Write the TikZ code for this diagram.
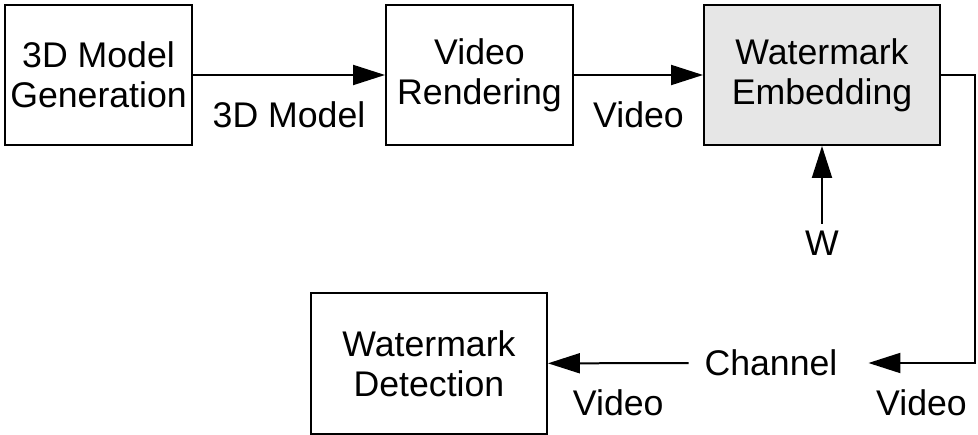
\documentclass[tikz,border=0pt]{standalone}
\usepackage{fontspec}
\setmainfont{Liberation Sans}
\usetikzlibrary{arrows.meta, calc}

\definecolor{embgray}{HTML}{E6E6E6}

\begin{document}
\begin{tikzpicture}[x=0.02cm, y=-0.02cm, >={Triangle[length=0.64cm, width=0.4cm]}, line width=0.04cm, font=\fontsize{20.3}{23}\selectfont]

  % --- ESTILOS ---
  \tikzstyle{block}=[draw, align=center, minimum height=2.8cm, inner sep=0pt]
  \tikzstyle{lbl}=[below=0.4cm]

  \useasboundingbox (0,0) rectangle (978,435);

  % --- LINHA SUPERIOR (Geração, Renderização, Inserção) ---
  \node[block, minimum width=3.74cm] (gen) at (98.5, 75) {3D Model\\Generation};
  \node[block, minimum width=3.74cm] (rend) at (479.5, 75) {Video\\Rendering};
  \node[block, fill=embgray, minimum width=4.72cm] (emb) at (822, 75) {Watermark\\Embedding};

  % Marca d'água W
  \node (w) at (822, 243) {W};

  % --- LINHA INFERIOR (Canal e Detecção) ---
  \node[inner xsep=0.3cm] (chan) at (771, 363) {Channel};
  \node[block, minimum width=4.72cm, minimum height=2.82cm] (det) at (429, 363.5) {Watermark\\Detection};

  % Ponto de dobra à direita
  \coordinate (turn) at (975, 75);

  % --- CONEXÕES ---
  \draw [->] (gen) -- node[lbl] {3D Model} (rend);
  \draw [->] (rend) -- node[lbl] {Video} (emb);
  \draw [->] (w) -- (emb);
  \draw [->, shorten >=0.3cm] (emb.east) -- (turn) |- node[lbl, pos=0.72] {Video} (chan.east);
  \draw [->] (chan) -- node[lbl] {Video} (det);

\end{tikzpicture}
\end{document}
